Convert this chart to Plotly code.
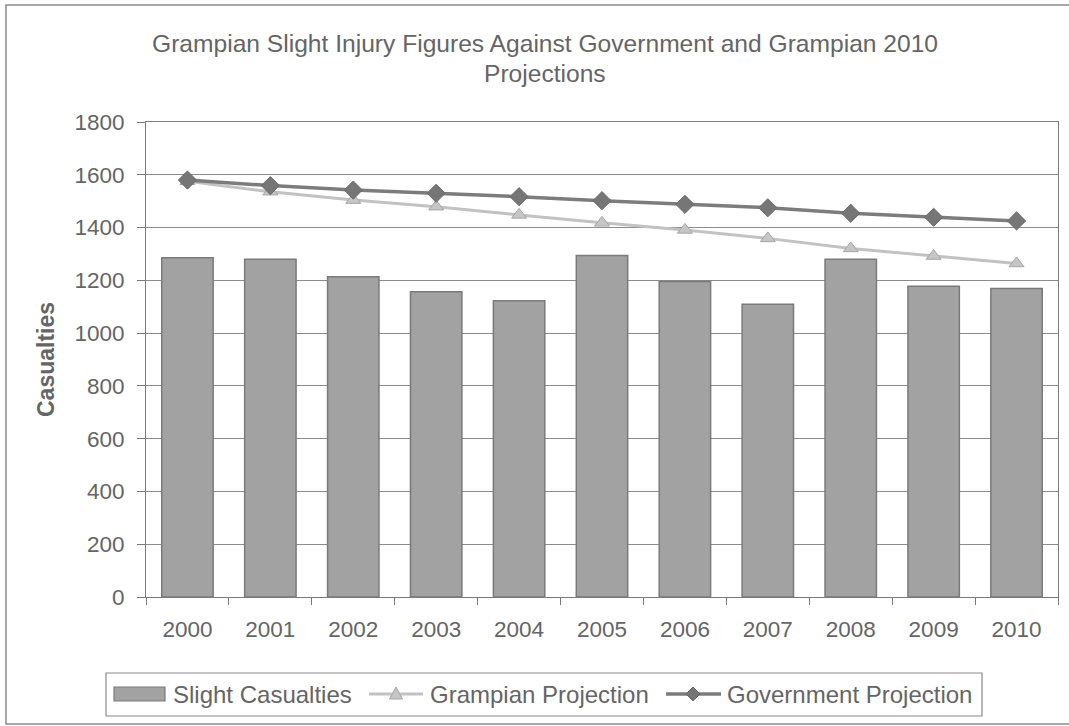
import plotly.graph_objects as go

# Yearly figures
years = ["2000", "2001", "2002", "2003", "2004", "2005",
         "2006", "2007", "2008", "2009", "2010"]
slight_casualties = [1286, 1280, 1214, 1157, 1123, 1294, 1196, 1109, 1280, 1178, 1169]
grampian_projection = [1575, 1536, 1504, 1479, 1448, 1418, 1391, 1359, 1321, 1292, 1264]
government_projection = [1580, 1559, 1542, 1530, 1517, 1502, 1488, 1475, 1454, 1439, 1425]

y_ticks = [0, 200, 400, 600, 800, 1000, 1200, 1400, 1600, 1800]

series_names = ["Slight Casualties", "Grampian Projection", "Government Projection"]

FONT = "Liberation Sans, Arial, sans-serif"
TEXT = "#656565"
BAR_FILL, BAR_EDGE = "#a2a2a2", "#7a7a7a"
GRAMP_LINE, GRAMP_MARK, GRAMP_EDGE = "#c2c2c2", "#c6c6c6", "#a6a6a6"
GOV_LINE, GOV_MARK, GOV_EDGE = "#7c7c7c", "#767676", "#6a6a6a"

W, H = 1069, 726
L, R, T, B = 146, 11, 122, 129
pw, ph = W - L - R, H - T - B


def px_x(x):
    return (x - L) / pw


def px_y(y):
    return (H - B - y) / ph


def paper_path(points):
    """SVG path in paper coordinates from a list of pixel points."""
    parts = [f"{px_x(x):.5f},{px_y(y):.5f}" for x, y in points]
    return "M " + " L ".join(parts) + " Z"


fig = go.Figure()

fig.add_trace(go.Bar(
    x=years, y=slight_casualties, name=series_names[0],
    marker=dict(color=BAR_FILL, line=dict(color=BAR_EDGE, width=1.5)),
))
fig.add_trace(go.Scatter(
    x=years, y=grampian_projection, name=series_names[1],
    mode="lines+markers",
    line=dict(color=GRAMP_LINE, width=3),
    marker=dict(symbol="triangle-up", size=13, color=GRAMP_MARK,
                line=dict(color=GRAMP_EDGE, width=1)),
))
fig.add_trace(go.Scatter(
    x=years, y=government_projection, name=series_names[2],
    mode="lines+markers",
    line=dict(color=GOV_LINE, width=3.5),
    marker=dict(symbol="diamond", size=14, color=GOV_MARK,
                line=dict(color=GOV_EDGE, width=1)),
))

fig.update_layout(
    width=W, height=H,
    margin=dict(l=L, r=R, t=T, b=B),
    paper_bgcolor="white", plot_bgcolor="white",
    font=dict(family=FONT, color=TEXT, size=22),
    bargap=0.38,
    showlegend=False,
    xaxis=dict(
        type="category", showgrid=False,
        range=[-0.5, len(years) - 0.5],
        ticks="outside", tickson="boundaries", ticklen=7,
        tickcolor="#7a7a7a", tickwidth=1,
        showline=True, linecolor="#7a7a7a", linewidth=1, mirror=True,
        tickfont=dict(size=22.5, color=TEXT),
        ticklabelstandoff=12,
    ),
    yaxis=dict(
        range=[0, 1800], tickvals=y_ticks,
        showgrid=True, gridcolor="#8c8c8c", gridwidth=1,
        ticks="outside", ticklen=8, tickcolor="#7a7a7a",
        showline=True, linecolor="#7a7a7a", linewidth=1, mirror=True,
        zeroline=False,
        tickfont=dict(size=22.5, color=TEXT),
        ticklabelstandoff=8,
    ),
)

# Y-axis title
fig.add_annotation(
    text="<b>Casualties</b>", textangle=-90,
    xref="paper", yref="paper", x=px_x(46), y=px_y(360),
    xanchor="center", yanchor="middle", showarrow=False,
    font=dict(size=23, color=TEXT, family=FONT),
)

# Two-line chart title
fig.add_annotation(
    text="Grampian Slight Injury Figures Against Government and Grampian 2010",
    xref="paper", yref="paper", x=px_x(545), y=px_y(43),
    xanchor="center", yanchor="middle", showarrow=False,
    font=dict(size=24.6, color=TEXT, family=FONT),
)
fig.add_annotation(
    text="Projections",
    xref="paper", yref="paper", x=px_x(545), y=px_y(73),
    xanchor="center", yanchor="middle", showarrow=False,
    font=dict(size=24.6, color=TEXT, family=FONT),
)

# Legend box and entries
leg_top, leg_bot, leg_mid = 673, 716, 694
fig.add_shape(type="rect", xref="paper", yref="paper",
              x0=px_x(106), x1=px_x(982), y0=px_y(leg_bot), y1=px_y(leg_top),
              line=dict(color="#8a8a8a", width=1.2), fillcolor="white")
# bar swatch
fig.add_shape(type="rect", xref="paper", yref="paper",
              x0=px_x(114), x1=px_x(165), y0=px_y(leg_mid + 7), y1=px_y(leg_mid - 7),
              line=dict(color=BAR_EDGE, width=1.2), fillcolor=BAR_FILL)
# line swatches
for x0, x1, col, wd in [(369, 423, GRAMP_LINE, 3), (666, 721, GOV_LINE, 3.5)]:
    fig.add_shape(type="line", xref="paper", yref="paper",
                  x0=px_x(x0), x1=px_x(x1), y0=px_y(leg_mid), y1=px_y(leg_mid),
                  line=dict(color=col, width=wd))
# marker swatches
tx, dx = 396, 693
fig.add_shape(type="path", xref="paper", yref="paper",
              path=paper_path([(tx, leg_mid - 7), (tx + 6.5, leg_mid + 5),
                               (tx - 6.5, leg_mid + 5)]),
              fillcolor=GRAMP_MARK, line=dict(color=GRAMP_EDGE, width=1))
fig.add_shape(type="path", xref="paper", yref="paper",
              path=paper_path([(dx, leg_mid - 7), (dx + 7, leg_mid),
                               (dx, leg_mid + 7), (dx - 7, leg_mid)]),
              fillcolor=GOV_MARK, line=dict(color=GOV_EDGE, width=1))

for xl, label in zip([171, 428, 725], series_names):
    fig.add_annotation(
        text=label, xref="paper", yref="paper", x=px_x(xl), y=px_y(leg_mid),
        xanchor="left", yanchor="middle", showarrow=False,
        font=dict(size=24, color=TEXT, family=FONT),
    )

# Chart area border
fig.add_shape(
    type="rect", xref="paper", yref="paper",
    x0=px_x(6), x1=px_x(1075), y0=px_y(724), y1=px_y(5),
    line=dict(color="#8a8a8a", width=1.5), fillcolor="rgba(0,0,0,0)",
    layer="below",
)

fig.write_html("out.html")
